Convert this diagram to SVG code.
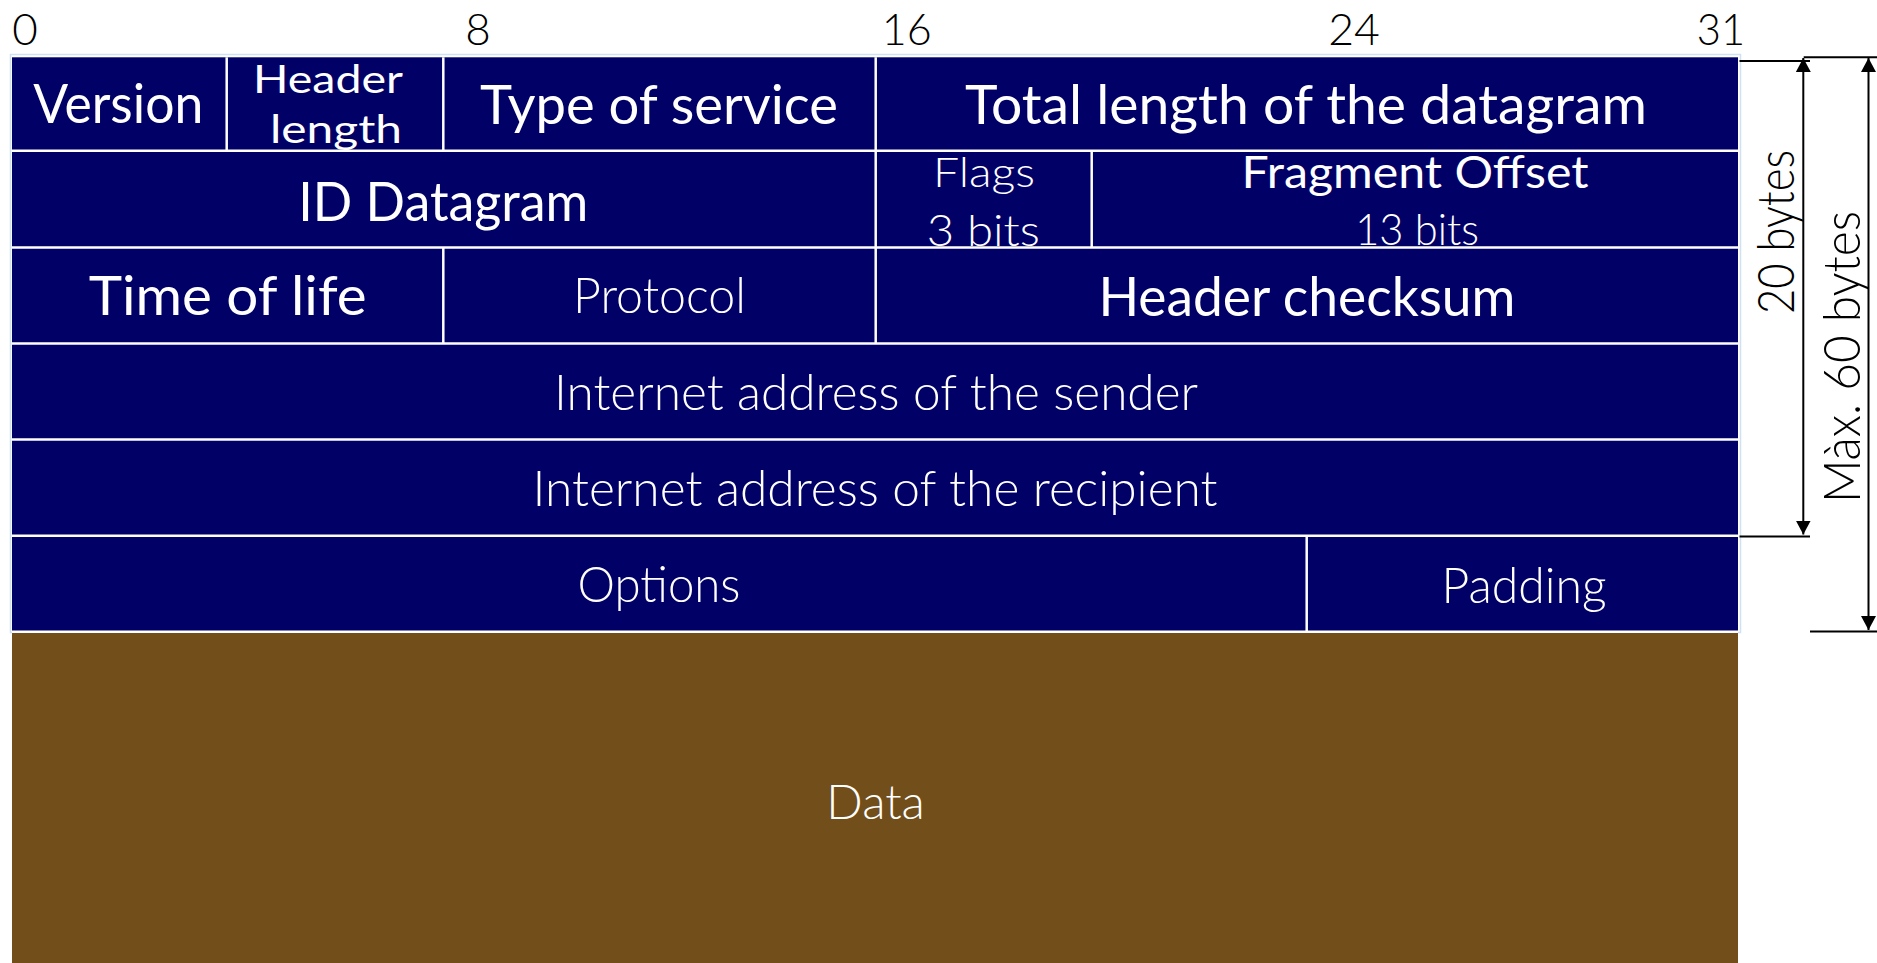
<svg xmlns="http://www.w3.org/2000/svg" width="1877" height="963" viewBox="0 0 1877 963">
<style>
.cell{fill:#000066}
.data{fill:#724E1A}
.sep{stroke:#ffffff;stroke-width:2.5;fill:none}
.t{font-family:Lato,"Liberation Sans",sans-serif;fill:#ffffff;text-anchor:middle}
.r{font-weight:400}
.l{font-weight:300}
.k{font-family:Lato,"Liberation Sans",sans-serif;fill:#000000;text-anchor:middle;font-weight:300}
.dim{stroke:#000000;stroke-width:2;fill:none}
</style>
<defs>
<marker id="ah" viewBox="0 0 14 15" refX="14" refY="7.5" markerWidth="14" markerHeight="15" markerUnits="userSpaceOnUse" orient="auto-start-reverse">
<path d="M0,0 L14,7.5 L0,15 z" fill="#000000"/>
</marker>
</defs>
<rect width="1877" height="963" fill="#ffffff"/>

<g id="bit-scale">
<text class="k" x="25" y="45" font-size="44">0</text>
<text class="k" x="478" y="45" font-size="44">8</text>
<text class="k" x="906.7" y="45" font-size="44" textLength="50" lengthAdjust="spacingAndGlyphs">16</text>
<text class="k" x="1354" y="45" font-size="44" textLength="51.7" lengthAdjust="spacingAndGlyphs">24</text>
<text class="k" x="1721" y="45" font-size="44" textLength="48.3" lengthAdjust="spacingAndGlyphs">31</text>
</g>

<rect x="10.5" y="54.5" width="1730" height="578" fill="none" stroke="#cfe2f3" stroke-width="1.5"/>
<rect class="cell" x="12" y="57.3" width="1726" height="574.2"/>

<g id="version"><text class="t r" x="118.3" y="123.3" font-size="55" textLength="170" lengthAdjust="spacingAndGlyphs">Version</text></g>
<g id="header-length">
<text class="t r" x="328" y="93.3" font-size="39" textLength="150" lengthAdjust="spacingAndGlyphs">Header</text>
<text class="t r" x="336" y="143.3" font-size="39" textLength="132" lengthAdjust="spacingAndGlyphs">length</text>
</g>
<g id="type-of-service"><text class="t r" x="659" y="124" font-size="55" textLength="358" lengthAdjust="spacingAndGlyphs">Type of service</text></g>
<g id="total-length"><text class="t r" x="1306" y="124" font-size="55" textLength="682" lengthAdjust="spacingAndGlyphs">Total length of the datagram</text></g>

<g id="id-datagram"><text class="t r" x="443.3" y="220.7" font-size="55" textLength="290" lengthAdjust="spacingAndGlyphs">ID Datagram</text></g>
<g id="flags">
<text class="t l" x="984" y="186.7" font-size="42" textLength="102" lengthAdjust="spacingAndGlyphs">Flags</text>
<text class="t l" x="983.3" y="246" font-size="43" textLength="113" lengthAdjust="spacingAndGlyphs">3 bits</text>
</g>
<g id="fragment-offset">
<text class="t r" x="1415" y="188.3" font-size="44" textLength="347" lengthAdjust="spacingAndGlyphs">Fragment Offset</text>
<text class="t l" x="1417" y="245" font-size="44" textLength="123.7" lengthAdjust="spacingAndGlyphs">13 bits</text>
</g>

<g id="time-of-life"><text class="t r" x="227.7" y="315" font-size="55" textLength="278" lengthAdjust="spacingAndGlyphs">Time of life</text></g>
<g id="protocol"><text class="t l" x="659.5" y="313" font-size="49" textLength="173" lengthAdjust="spacingAndGlyphs">Protocol</text></g>
<g id="header-checksum"><text class="t r" x="1306.9" y="315.7" font-size="55" textLength="417" lengthAdjust="spacingAndGlyphs">Header checksum</text></g>

<g id="sender"><text class="t l" x="876" y="410" font-size="49" textLength="644" lengthAdjust="spacingAndGlyphs">Internet address of the sender</text></g>
<g id="recipient"><text class="t l" x="875" y="505.7" font-size="49" textLength="685" lengthAdjust="spacingAndGlyphs">Internet address of the recipient</text></g>

<g id="options"><text class="t l" x="659" y="601.7" font-size="49" textLength="163" lengthAdjust="spacingAndGlyphs">Options</text></g>
<g id="padding"><text class="t l" x="1524" y="602.7" font-size="49" textLength="165" lengthAdjust="spacingAndGlyphs">Padding</text></g>

<g id="data">
<rect class="data" x="12" y="632.8" width="1726" height="331"/>
<text class="t l" x="875.6" y="819" font-size="47" textLength="98.5" lengthAdjust="spacingAndGlyphs">Data</text>
</g>

<g id="separators">
<line class="sep" x1="12" y1="150.7" x2="1738" y2="150.7"/>
<line class="sep" x1="12" y1="247.4" x2="1738" y2="247.4"/>
<line class="sep" x1="12" y1="343.5" x2="1738" y2="343.5"/>
<line class="sep" x1="12" y1="439.5" x2="1738" y2="439.5"/>
<line class="sep" x1="12" y1="535.8" x2="1738" y2="535.8"/>
<line class="sep" x1="12" y1="631.8" x2="1738" y2="631.8"/>
<line class="sep" x1="226.7" y1="57.3" x2="226.7" y2="150.7"/>
<line class="sep" x1="443.3" y1="57.3" x2="443.3" y2="150.7"/>
<line class="sep" x1="443.3" y1="247.4" x2="443.3" y2="343.5"/>
<line class="sep" x1="875.7" y1="57.3" x2="875.7" y2="343.5"/>
<line class="sep" x1="1091.7" y1="150.7" x2="1091.7" y2="247.4"/>
<line class="sep" x1="1306.7" y1="535.8" x2="1306.7" y2="631.8"/>
</g>

<g id="connectors">
<line class="dim" x1="1739.5" y1="61" x2="1810" y2="61"/>
<line class="dim" x1="1739.5" y1="536.5" x2="1810" y2="536.5"/>
<line class="dim" x1="1803.7" y1="57.3" x2="1877" y2="57.3"/>
<line class="dim" x1="1810" y1="631.6" x2="1877" y2="631.6"/>
<line class="dim" x1="1803.3" y1="58" x2="1803.3" y2="534.5" marker-start="url(#ah)" marker-end="url(#ah)"/>
<line class="dim" x1="1868.5" y1="58" x2="1868.5" y2="630" marker-start="url(#ah)" marker-end="url(#ah)"/>
</g>

<g id="size-20">
<text class="k" transform="translate(1793.5,232) rotate(-90)" x="0" y="0" font-size="51" textLength="164" lengthAdjust="spacingAndGlyphs">20 bytes</text>
</g>
<g id="size-60">
<text class="k" transform="translate(1860,357) rotate(-90)" x="0" y="0" font-size="51" textLength="292" lengthAdjust="spacingAndGlyphs">Màx. 60 bytes</text>
</g>
</svg>
